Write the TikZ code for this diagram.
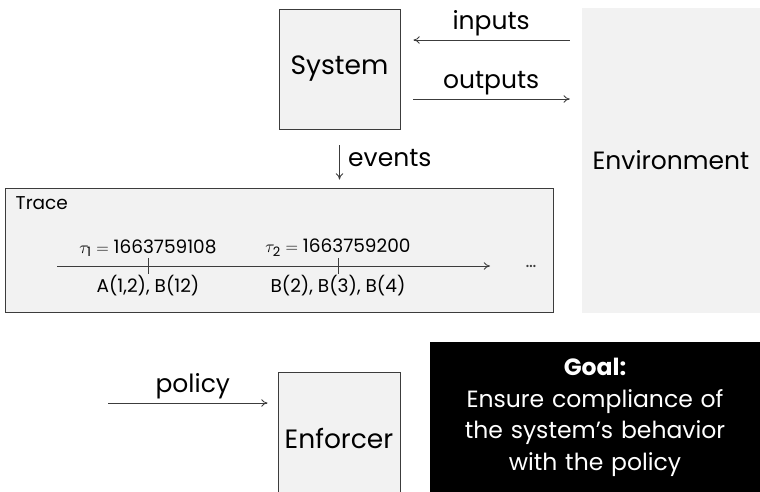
\documentclass[tikz,border=0pt]{standalone}
\usepackage{amsmath}
\usepackage{fontspec}
\setmainfont{Poppins}
\usetikzlibrary{arrows.meta,positioning}
\definecolor{boxgray}{HTML}{F2F2F2}
\definecolor{linegray}{HTML}{3C3C3C}

\begin{document}
\begin{tikzpicture}[
  x=1pt,y=1pt,
  box/.style={rectangle,draw=linegray,line width=0.9pt,fill=boxgray,inner sep=0pt,
    font=\fontsize{26.5}{30}\selectfont},
  lbl/.style={font=\fontsize{25}{29}\selectfont},
  small/.style={font=\fontsize{18.5}{22}\selectfont},
  arr/.style={-{To[length=2.2mm,width=2.6mm]},line width=0.8pt,draw=linegray}
]
\clip (0,0) rectangle (760,492);
\useasboundingbox (0,0) rectangle (760,492);

% system and its environment
\node[box,minimum width=121pt,minimum height=120pt] (sys) at (339.5,423) {System};
\node[fill=boxgray,minimum width=178pt,minimum height=305pt,
  font=\fontsize{25}{29}\selectfont] (env) at (671,331.5) {Environment};
\draw[arr,shorten <=12pt,shorten >=13pt] ([yshift=29pt]sys.east -| env.west)
  -- node[lbl,above=0pt] (inp) {inputs} ([yshift=29pt]sys.east);
\draw[arr,shorten <=13pt,shorten >=12pt] ([yshift=-30pt]sys.east)
  -- node[lbl,above=0pt] (outp) {outputs} ([yshift=-30pt]sys.east -| env.west);

% trace
\node[box,minimum width=548pt,minimum height=124pt] (trace) at (279,242) {};
\node[small,anchor=north west,inner sep=0pt] (tlbl) at ([xshift=11pt,yshift=-9pt]trace.north west) {Trace};
\draw[arr,shorten <=16pt,shorten >=8pt] (sys.south) -- node[lbl,right=5pt] (ev) {events} (sys.south |- trace.north);

\coordinate (t0) at (57,226);
\coordinate (t3) at (490,226);
\coordinate (k1) at (148,226);
\coordinate (k2) at (338,226);
\draw[arr] (t0) -- (t3);
\draw[line width=0.8pt,draw=linegray] ([yshift=-8pt]k1) -- ([yshift=8pt]k1);
\draw[line width=0.8pt,draw=linegray] ([yshift=-8pt]k2) -- ([yshift=8pt]k2);
\node[small,above=6pt of k1] (s1) {$\tau_{\text{1}} =$ 1663759108};
\node[small,above=6pt of k2] (s2) {$\tau_{\text{2}} =$ 1663759200};
\node[small,below=6pt of k1] (e1) {A(1,2), B(12)};
\node[small,below=6pt of k2] (e2) {B(2), B(3), B(4)};
\node[small,text=linegray] (dots) at (531,226) {\dots};

% enforcer
\node[box,minimum width=122pt,minimum height=132pt] (enf) at (339,54) {Enforcer};
\coordinate (pol) at (108,89);
\draw[arr,shorten >=10pt] (pol) -- node[lbl,above=0pt] (plbl) {policy} (pol -| enf.west);

% goal
\node[fill=black,text=white,anchor=north,minimum width=330pt,inner ysep=16pt,
  text width=320pt,align=center,font=\fontsize{23.5}{31.5}\selectfont] (goal) at (595,150)
  {\textbf{Goal:}\\Ensure compliance of\\the system’s behavior\\with the policy\\\rule{0pt}{6pt}};
\end{tikzpicture}
\end{document}
